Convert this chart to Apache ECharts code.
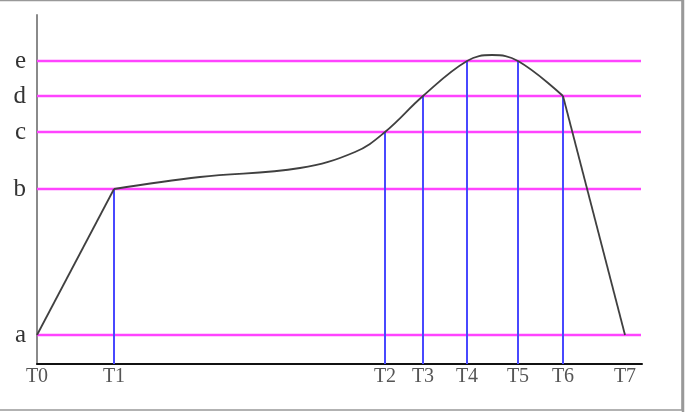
<!DOCTYPE html>
<html>
<head>
<meta charset="utf-8">
<script src="https://cdn.jsdelivr.net/npm/echarts@6/dist/echarts.min.js"></script>
<style>
html,body{margin:0;padding:0;background:#fff;}
#chart{width:689px;height:412px;}
</style>
</head>
<body>
<div id="chart"></div>
<script>
// Level labels on the y axis and their values
const levelNames = ['a', 'b', 'c', 'd', 'e'];
const levelValues = [29, 175, 232, 268, 303];

// Time labels on the x axis and their values
const timeNames = ['T0', 'T1', 'T2', 'T3', 'T4', 'T5', 'T6', 'T7'];
const timeValues = [0, 77, 348, 386, 430, 481, 526, 588];

// Vertical marker lines: which times, and up to which level
const markerTimes = ['T1', 'T2', 'T3', 'T4', 'T5', 'T6'];
const markerLevels = ['b', 'c', 'd', 'e', 'e', 'd'];

// Curve: straight rise, smooth middle part, straight fall
const riseX = [0, 77];
const riseY = [29, 175];
const midX = [77, 163, 263, 318, 348, 386, 430, 455, 481, 526];
const midY = [175, 187, 196, 212, 232, 268, 303, 309, 303, 268];
const fallX = [526, 588];
const fallY = [268, 29];

const X_MAX = 605, Y_MAX = 349, LEVEL_END = 604;

const zip = (xs, ys) => xs.map((x, i) => [x, ys[i]]);
const levelOf = n => levelValues[levelNames.indexOf(n)];
const timeOf = n => timeValues[timeNames.indexOf(n)];

const series = [];
levelValues.forEach(v => {
  series.push({
    type: 'line', data: [[0, v], [LEVEL_END, v]], symbol: 'none', silent: true, z: 2,
    lineStyle: { color: '#ff44ff', width: 2.5 }
  });
});
markerTimes.forEach((t, i) => {
  const x = timeOf(t);
  series.push({
    type: 'line', data: [[x, 0], [x, levelOf(markerLevels[i])]], symbol: 'none', silent: true, z: 3,
    lineStyle: { color: '#4848ff', width: 2 }
  });
});
const curveStyle = { color: '#404040', width: 1.8 };
series.push({ type: 'line', data: zip(riseX, riseY), symbol: 'none', z: 5, lineStyle: curveStyle });
series.push({ type: 'line', data: zip(midX, midY), symbol: 'none', smooth: 0.4, z: 5, lineStyle: curveStyle });
series.push({ type: 'line', data: zip(fallX, fallY), symbol: 'none', z: 5, lineStyle: curveStyle });

const chart = echarts.init(document.getElementById('chart'), null, { renderer: 'canvas' });
chart.setOption({
  animation: false,
  backgroundColor: '#fff',
  grid: { left: 37, right: 47, top: 15, bottom: 48 },
  xAxis: {
    type: 'value', min: 0, max: X_MAX,
    splitLine: { show: false },
    axisLine: { show: true, onZero: false, lineStyle: { color: '#111', width: 2 } },
    axisTick: { show: false },
    axisLabel: {
      customValues: timeValues,
      formatter: v => timeNames[timeValues.indexOf(v)] || '',
      fontFamily: 'Liberation Serif', fontSize: 20, color: '#555', margin: 3
    }
  },
  yAxis: {
    type: 'value', min: 0, max: Y_MAX,
    splitLine: { show: false },
    axisLine: { show: true, onZero: false, lineStyle: { color: '#8a8a8a', width: 2 } },
    axisTick: { show: false },
    axisLabel: {
      customValues: levelValues,
      formatter: v => levelNames[levelValues.indexOf(v)] || '',
      fontFamily: 'Liberation Serif', fontSize: 25, color: '#333', margin: 11
    }
  },
  graphic: [{
    type: 'rect', shape: { x: -2, y: 0.5, width: 684, height: 409.5 },
    style: { fill: 'none', stroke: '#999', lineWidth: 1.5 }, silent: true
  }, {
    type: 'line', shape: { x1: 683, y1: 0, x2: 683, y2: 412 },
    style: { stroke: '#999', lineWidth: 2.5 }, silent: true
  }],
  series: series
});
</script>
</body>
</html>
